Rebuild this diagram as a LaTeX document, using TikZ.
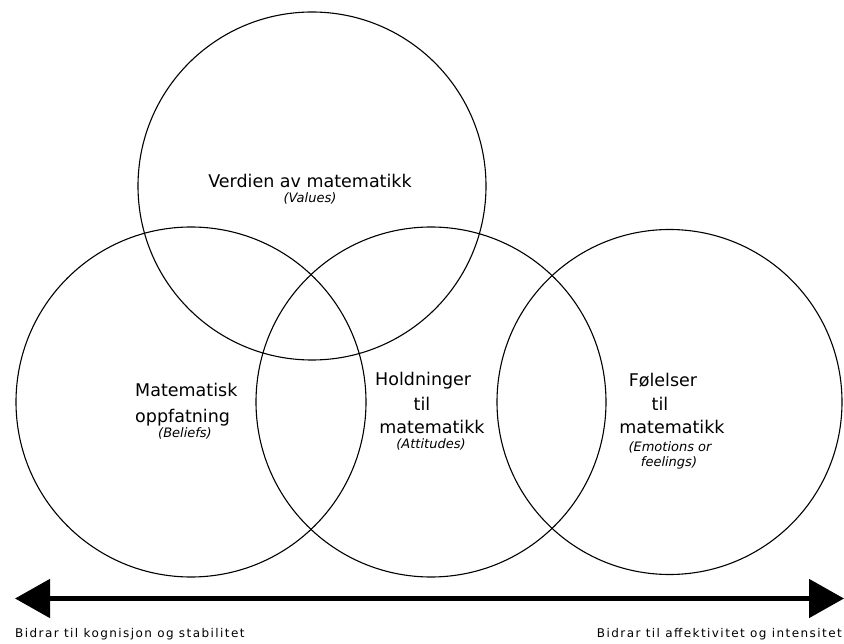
\documentclass[tikz,border=0pt]{standalone}
\usepackage{fontspec}
\setmainfont{DejaVu Sans}
\usetikzlibrary{arrows.meta}
\tikzset{
  ring/.style={circle, draw=black, line width=1.1pt, inner sep=0pt, minimum size=#1},
  maintext/.style={anchor=base, inner sep=0pt, font=\fontsize{17.5}{21}\selectfont},
  subtext/.style={anchor=base, inner sep=0pt, font=\fontsize{13}{15}\selectfont\itshape},
  axislabel/.style={anchor=base, inner sep=0pt, font=\fontsize{12}{14}\selectfont\addfontfeature{LetterSpace=12}},
  axisline/.style={line width=5pt, {Triangle[length=35pt,width=38pt]}-{Triangle[length=35pt,width=38pt]}}
}
\begin{document}
\begin{tikzpicture}[x=1pt,y=-1pt]
\useasboundingbox (0,0) rectangle (844,644);
% circles
\node[ring=348pt] (val) at (312,186) {};
\node[ring=350pt] (bel) at (191,402) {};
\node[ring=350pt] (att) at (431,402) {};
\node[ring=345pt] (emo) at (669.5,402) {};
% texts
\node[maintext] (t1) at (310,188) {Verdien av matematikk};
\node[subtext] (s1) at (310,203) {(Values)};
\node[maintext, anchor=base west] (t2a) at (135,397) {Matematisk};
\node[maintext, anchor=base west] (t2b) at (135,423) {oppfatning};
\node[subtext] (s2) at (185,438) {(Beliefs)};
\node[maintext, anchor=base west] (t3a) at (375,386) {Holdninger};
\node[maintext] (t3b) at (422,410) {til};
\node[maintext] (t3c) at (432,434) {matematikk};
\node[subtext] (s3) at (431,448) {(Attitudes)};
\node[maintext] (t4a) at (663,387) {Følelser};
\node[maintext] (t4b) at (660,410) {til};
\node[maintext] (t4c) at (672,433) {matematikk};
\node[subtext] (s4a) at (670,452) {(Emotions or};
\node[subtext] (s4b) at (669,467) {feelings)};
% axis
\coordinate (L) at (15,598.5);
\coordinate (R) at (844,598.5);
\draw[axisline] (L) -- (R);
\node[axislabel, anchor=base west] (al) at (15,637) {Bidrar til kognisjon og stabilitet};
\node[axislabel, anchor=base east] (ar) at (842,637) {Bidrar til affektivitet og intensitet};
\end{tikzpicture}
\end{document}
